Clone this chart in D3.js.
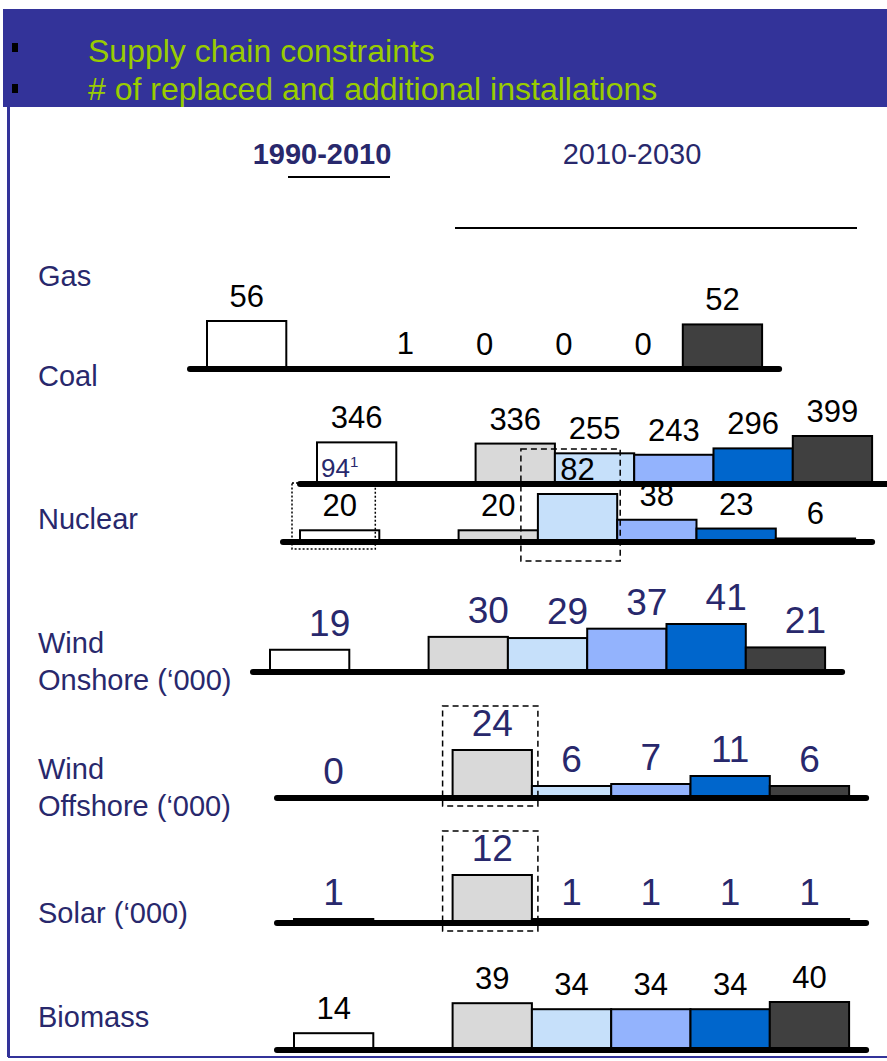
<!DOCTYPE html>
<html>
<head>
<meta charset="utf-8">
<script src="https://cdn.jsdelivr.net/npm/d3@7.9.0/dist/d3.min.js"></script>
<style>
  body { margin: 0; background: #fff; }
  svg { display: block; }
</style>
</head>
<body>
<div id="chart"></div>
<script>
// bullet points in the banner
const bullets = ["Supply chain constraints", "# of replaced and additional installations"];

// period headers
const periods = ["1990-2010", "2010-2030"];

// rows (technologies)
const categories = ["Gas", "Coal", "Nuclear", "Wind\nOnshore (‘000)", "Wind\nOffshore (‘000)", "Solar (‘000)", "Biomass"];

// installations 1990-2010, one value per row
const values1990 = [56, 346, 20, 19, 0, 1, 14];

// installations 2010-2030, five scenarios per row
const values2030 = [
  [1, 0, 0, 0, 52],
  [336, 255, 243, 296, 399],
  [20, 82, 38, 23, 6],
  [30, 29, 37, 41, 21],
  [24, 6, 7, 11, 6],
  [12, 1, 1, 1, 1],
  [39, 34, 34, 34, 40]
];

// footnote inside the coal 1990 bar
const coalNote = "94", coalNoteSup = "1";

const width = 887, height = 1061;
const navy = "#28286c";
const font = "'Liberation Sans', Arial, sans-serif";

// slot 0 = 1990-2010, slot 1 empty, slots 2..6 = 2010-2030
const slotColors = ["#ffffff", "none", "#d9d9d9", "#c6e0fa", "#93b3fd", "#0066cc", "#404040"];

// row placement on the page
const rowLayout = [
  { x0: 207, base: 369, labelY: 286 },
  { x0: 317, base: 484, labelY: 386 },
  { x0: 300, base: 542, labelY: 529 },
  { x0: 270, base: 672, labelY: 653, shift: 20, big: true },
  { x0: 294, base: 798, labelY: 779, big: true },
  { x0: 294, base: 923, labelY: 923, big: true },
  { x0: 294, base: 1050, labelY: 1027 }
];
const slotW = 79.3, barMax = 48;

// highlight boxes (offsets from slot edges / baseline)
const boxes = [
  { row: 2, slot: 0, dash: "2,2", l: 8, r: -4, t: 59, b: 7 },
  { row: 2, slot: 3, dash: "6,4", l: 17, r: 3, t: 93, b: 19 },
  { row: 4, slot: 2, dash: "6,4", l: 10, r: 6, t: 92, b: 8 },
  { row: 5, slot: 2, dash: "6,4", l: 10, r: 6, t: 92, b: 8 }
];

const svg = d3.select("#chart").append("svg")
  .attr("width", width).attr("height", height)
  .style("font-family", font);

// banner
svg.append("rect").attr("x", 3).attr("y", 9).attr("width", width - 3).attr("height", 98).attr("fill", "#333399");
bullets.forEach((b, i) => {
  svg.append("rect").attr("x", 12).attr("y", 43 + i * 41).attr("width", 6).attr("height", 9).attr("fill", "#000");
  svg.append("text").attr("x", 88).attr("y", 62 + i * 38)
    .attr("font-size", 32).attr("fill", "#99cc00").text(b);
});

// frame
svg.append("line").attr("x1", 8.5).attr("x2", 8.5).attr("y1", 107).attr("y2", 1057)
  .attr("stroke", "#333399").attr("stroke-width", 3);
svg.append("line").attr("x1", 8).attr("x2", width).attr("y1", 1057).attr("y2", 1057)
  .attr("stroke", "#333399").attr("stroke-width", 2);

// period headers
svg.append("text").attr("x", 322).attr("y", 164).attr("text-anchor", "middle")
  .attr("font-size", 29).attr("font-weight", "bold").attr("fill", navy).text(periods[0]);
svg.append("text").attr("x", 632).attr("y", 164).attr("text-anchor", "middle")
  .attr("font-size", 29).attr("fill", navy).text(periods[1]);
svg.append("line").attr("x1", 288).attr("x2", 390).attr("y1", 177).attr("y2", 177)
  .attr("stroke", "#000").attr("stroke-width", 2);
svg.append("line").attr("x1", 455).attr("x2", 857).attr("y1", 228).attr("y2", 228)
  .attr("stroke", "#000").attr("stroke-width", 2);

// category labels
categories.forEach((c, i) => {
  const t = svg.append("text").attr("x", 38).attr("y", rowLayout[i].labelY)
    .attr("font-size", 29).attr("fill", navy);
  c.split("\n").forEach((line, j) => {
    t.append("tspan").attr("x", 38).attr("dy", j ? 37 : 0).text(line);
  });
});

// scales per row
const rows = categories.map((c, i) => {
  const L = rowLayout[i];
  const vals = [values1990[i], null].concat(values2030[i]);
  const x = d3.scaleBand().domain(d3.range(7)).range([L.x0, L.x0 + 7 * slotW]).padding(0);
  const y = d3.scaleLinear().domain([0, d3.max(vals)]).range([L.base, L.base - barMax]);
  return { i, L, vals, x, y };
});

// nuclear drawn before coal so coal bars sit over its labels
const drawOrder = [0, 2, 1, 3, 4, 5, 6];
const raised = [];

drawOrder.forEach(ri => {
  const R = rows[ri];
  const g = svg.append("g");
  const data = R.vals.map((v, s) => ({ v, s })).filter(d => d.v !== null);

  g.selectAll("rect.bar").data(data.filter(d => !(d.s === 0 && d.v === 0))).enter()
    .append("rect").attr("class", "bar")
    .attr("x", d => R.x(d.s))
    .attr("width", R.x.bandwidth())
    .attr("y", d => R.y(d.v))
    .attr("height", d => R.L.base - R.y(d.v))
    .attr("fill", d => slotColors[d.s])
    .attr("stroke", "#000").attr("stroke-width", 2);

  g.append("line")
    .attr("x1", R.x.range()[0] - 17).attr("x2", R.x.range()[1] + 17)
    .attr("y1", R.L.base).attr("y2", R.L.base)
    .attr("stroke", "#000").attr("stroke-width", 6).attr("stroke-linecap", "round");

  const labels = g.selectAll("text.val").data(data).enter()
    .append("text").attr("class", "val")
    .attr("x", d => R.x(d.s) + R.x.bandwidth() / 2 + (R.L.shift || 0))
    .attr("y", d => R.y(d.v) - 14)
    .attr("text-anchor", "middle")
    .attr("font-size", R.L.big ? 37 : 31)
    .attr("fill", R.L.big ? navy : "#000")
    .text(d => d.v);

  // nuclear's tallest label shows above the coal row
  if (ri === 2) labels.filter(d => d.v === d3.max(R.vals)).each(function () { raised.push(this); });
});

raised.forEach(n => svg.node().appendChild(n));

// footnote in the coal 1990 bar
const coal = rows[1];
const note = svg.append("text").attr("x", coal.x(0) + 4).attr("y", 477)
  .attr("font-size", 26).attr("fill", navy);
note.append("tspan").text(coalNote);
note.append("tspan").attr("font-size", 15).attr("dy", -10).text(coalNoteSup);

// highlight boxes
boxes.forEach(b => {
  const R = rows[b.row];
  svg.append("rect")
    .attr("x", R.x(b.slot) - b.l)
    .attr("y", R.L.base - b.t)
    .attr("width", R.x.bandwidth() + b.l + b.r)
    .attr("height", b.t + b.b)
    .attr("fill", "none").attr("stroke", "#000")
    .attr("stroke-width", 1.5).attr("stroke-dasharray", b.dash);
});
</script>
</body>
</html>
